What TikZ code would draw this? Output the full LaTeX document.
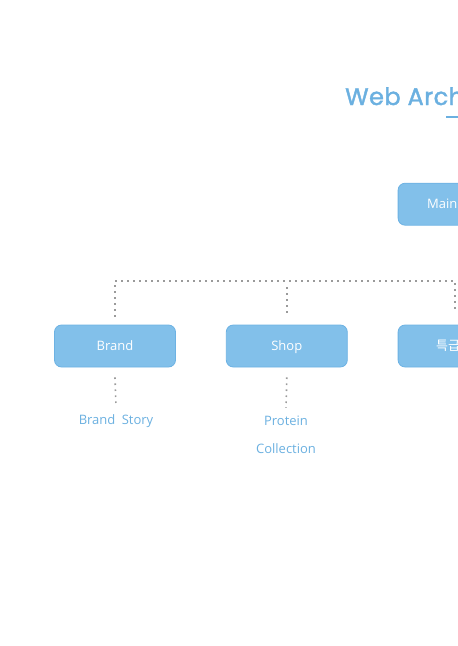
\documentclass[tikz,border=0pt]{standalone}
\usepackage{fontspec}
\setmainfont{Open Sans}
\newfontfamily\titlefont{Poppins}[FakeBold=1.6, LetterSpace=2]
\newfontfamily\kofont{Noto Sans CJK KR}
\usetikzlibrary{positioning}
\definecolor{skyblue}{HTML}{82C0EA}
\definecolor{skyline}{HTML}{6DB2E3}
\definecolor{titleblue}{HTML}{6BB0E0}
\definecolor{dotgray}{HTML}{9A9A9A}

\begin{document}
\begin{tikzpicture}[x=1pt, y=-1pt,
    menu/.style={draw=skyline, fill=skyblue, rounded corners=7pt, line width=0.8pt,
      minimum width=121pt, minimum height=42pt, inner sep=0pt, text=white,
      text height=9pt, text depth=0pt, font=\fontsize{13}{15}\selectfont},
    sub/.style={text=titleblue, inner sep=0pt, font=\fontsize{13}{15}\selectfont},
    dots/.style={dotgray, line width=1.6pt, dash pattern=on 1.6pt off 4.4pt}]
%      \draw [help lines, opacity=0.5] (0,0) grid[step=50] (458,646);
      \useasboundingbox (0,0) rectangle (458,646);
      \clip (0,0) rectangle (458,646);

      \node [anchor=base west, inner sep=0pt, text=titleblue,
        font=\titlefont\fontsize{24}{28}\selectfont] (title) at (345,105) {Web Arch};
      \draw [titleblue, line width=2pt] (446,117) -- (480,117);

      \node [menu] (brand) at (115,346) {Brand};
      \node [menu, right=50pt of brand] (shop) {Shop};
      \node [menu, right=50pt of shop, minimum width=0pt, text width=45pt,
        inner xsep=38pt, align=left] (sale) {\kofont 특급};
      \node [menu, above=99pt of sale, minimum width=0pt, text width=63pt,
        inner xsep=29pt, align=left] (main) {Main};

      \node [sub] (story) at (116,421) {Brand\hspace{3pt} Story};
      \node [sub] (protein) at (286,421) {Protein};
      \node [sub] (collection) at (286,449) {Collection};

      \coordinate (busL) at (115,281);
      \coordinate (busR) at (455,281);
      \coordinate (saleTop) at (455,313);
      \draw [dots] ([yshift=8pt]brand.north) -- (busL) -- (busR) -- (saleTop);
      \draw [dots] ([yshift=12pt]shop.north) -- ([yshift=40pt]shop.north);
      \draw [dots] ([yshift=-10pt]brand.south) -- ([yshift=8pt]story.north);
      \draw [dots] ([yshift=-10pt]shop.south) -- ([yshift=8pt]protein.north);
    \end{tikzpicture}
\end{document}
